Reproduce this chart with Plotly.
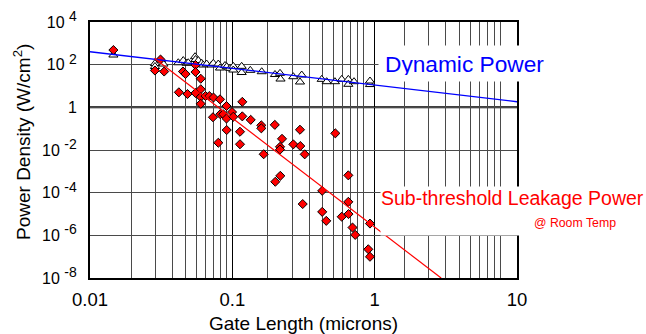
import plotly.graph_objects as go

# ---- data (gate length in microns, power density in W/cm^2) ----
dyn_len = [0.0146, 0.0286, 0.0286, 0.0315, 0.0328, 0.0417, 0.0452, 0.0478, 0.049,
           0.0547, 0.0551, 0.0577, 0.0609, 0.0625, 0.066, 0.0716, 0.0735, 0.0797,
           0.0819, 0.0888, 0.0913, 0.0963, 0.1016, 0.1016, 0.1163, 0.1163, 0.1337,
           0.1609, 0.1994, 0.2163, 0.218, 0.2682, 0.3072, 0.2988, 0.4246, 0.46,
           0.526, 0.587, 0.653, 0.653, 0.716, 0.927, 0.927]
dyn_pow = [283, 113, 81.8, 165, 107, 123, 156, 116, 123,
           236, 174, 156, 116, 96.2, 107, 96.2, 116, 107,
           69.6, 91.2, 80, 67.3, 83.6, 56.1, 83.6, 42.8, 54.3,
           46.7, 34.5, 39.3, 21.2, 27.2, 32.7, 15.4, 20.5, 15.9,
           15.9, 20.5, 20.5, 12.0, 15.9, 11.7, 17.1]

leak_len = [0.0146, 0.0313, 0.0286, 0.0332, 0.045, 0.0469, 0.0551, 0.0551, 0.060,
            0.0421, 0.0484, 0.0551, 0.060, 0.060, 0.0648, 0.0689, 0.0737, 0.0819,
            0.060, 0.1175, 0.091, 0.0995, 0.0731, 0.0823, 0.0864, 0.091, 0.1016,
            0.1175, 0.1346, 0.1598, 0.1598, 0.1988, 0.2988, 0.0913, 0.1132, 0.529,
            0.0797, 0.1132, 0.1661, 0.2234, 0.2163, 0.2163, 0.2682, 0.3003, 0.3225,
            0.2173, 0.2004, 0.653, 0.428, 0.3122, 0.653, 0.428, 0.457, 0.587,
            0.655, 0.699, 0.730, 0.927, 0.902, 0.927]
leak_pow = [485, 174, 53.1, 47.7, 47.7, 36.4, 96.2, 45.2, 21.9,
            5.05, 4.2, 4.68, 7.06, 3.04, 3.39, 3.39, 2.88, 2.37,
            1.46, 1.81, 1.15, 0.602, 0.343, 0.475, 0.475, 0.298, 0.362,
            0.378, 0.259, 0.143, 0.1036, 0.151, 0.0891, 0.0862, 0.0718, 0.0604,
            0.0219, 0.0186, 0.00633, 0.0334, 0.01407, 0.0105, 0.0184, 0.01534, 0.00626,
            6.15e-4, 3.25e-4, 6.49e-4, 1.22e-4, 2.93e-5, 3.71e-5, 1.26e-5, 4.77e-6, 7.43e-6,
            9.95e-6, 2.32e-6, 1.05e-6, 3.56e-6, 2.22e-7, 9.9e-8]

dyn_fit_len = [0.01, 10]
dyn_fit_pow = [404, 1.83]
leak_fit_len = [0.0283, 2.93]
leak_fit_pow = [198, 1e-8]

x_tickvals = [0.01, 0.1, 1, 10]
x_ticktext = ["0.01", "0.1", "1", "10"]
y_tickvals = [1e4, 1e2, 1, 1e-2, 1e-4, 1e-6, 1e-8]
y_exps = ["4", "2", None, "-2", "-4", "-6", "-8"]
y_ticktext = ["1" if e is None else
              "10 <sup><span style='font-size:14px'>%s</span></sup>" % e for e in y_exps]

FONT = "Arial, 'Liberation Sans', sans-serif"

# plot-area geometry (pixels) used to place the free text labels
L, R, T, B = 90, 517, 22, 278
W, H = R - L, B - T


def px_x(p):
    return (p - L) / W


def px_y(p):
    return (B - p) / H


fig = go.Figure()
# hidden overlay axis carrying the background minor grid
fig.add_trace(go.Scatter(x=[], y=[], xaxis="x2", yaxis="y", showlegend=False,
                         hoverinfo="skip"))
fig.add_trace(go.Scatter(x=dyn_len, y=dyn_pow, mode="markers", showlegend=False,
                         marker=dict(symbol="triangle-up", size=8, color="white",
                                     line=dict(color="black", width=1))))
fig.add_trace(go.Scatter(x=leak_len, y=leak_pow, mode="markers", showlegend=False,
                         marker=dict(symbol="diamond", size=7, color="#ff0000",
                                     line=dict(color="black", width=1))))
fig.add_trace(go.Scatter(x=dyn_fit_len, y=dyn_fit_pow, mode="lines", showlegend=False,
                         line=dict(color="#0000ff", width=1.3)))
fig.add_trace(go.Scatter(x=leak_fit_len, y=leak_fit_pow, mode="lines", showlegend=False,
                         line=dict(color="#ff0000", width=1.2)))

fig.update_layout(
    width=646, height=334,
    margin=dict(l=L, r=646 - R, t=T, b=334 - B, autoexpand=False),
    paper_bgcolor="white", plot_bgcolor="white",
    font=dict(family=FONT, color="black"),
    xaxis=dict(type="log", range=[-2, 1], tickvals=x_tickvals, ticktext=x_ticktext,
               showgrid=True, gridcolor="black", gridwidth=1, automargin=False,
               showline=True, linecolor="black", linewidth=2, mirror=True,
               ticks="outside", ticklen=4, tickcolor="rgba(0,0,0,0)",
               tickfont=dict(size=18.5, family=FONT), zeroline=False),
    xaxis2=dict(type="log", range=[-2, 1.1213], overlaying="x", side="bottom",
                showgrid=True, gridcolor="#4a4a4a", gridwidth=1, dtick="D1",
                automargin=False,
                showticklabels=False, ticks="", showline=False, zeroline=False),
    yaxis=dict(type="log", range=[-8, 4], tickvals=y_tickvals, ticktext=y_ticktext,
               showgrid=True, gridcolor="#4a4a4a", gridwidth=1, automargin=False,
               showline=True, linecolor="black", linewidth=2, mirror=True,
               ticks="outside", ticklen=8, tickcolor="rgba(0,0,0,0)",
               tickfont=dict(size=16, family=FONT), zeroline=False),
    shapes=[dict(type="line", xref="paper", x0=0, x1=1, yref="y", y0=1, y1=1,
                 line=dict(color="black", width=2), layer="between")],
    annotations=[
        dict(text="Gate Length (microns)", xref="paper", yref="paper",
             x=0.5, xanchor="center", y=px_y(323.5), yanchor="middle",
             showarrow=False, font=dict(size=19, family=FONT)),
        dict(text="Power Density (W/cm<sup>2</sup>)", xref="paper", yref="paper",
             x=px_x(22), xanchor="center", y=px_y(142), yanchor="middle",
             textangle=-90, showarrow=False, font=dict(size=19, family=FONT)),
        dict(text="Dynamic Power", xref="paper", yref="paper",
             x=px_x(378), xanchor="left", y=px_y(63.5), yanchor="middle",
             showarrow=False, bgcolor="white", width=190, height=23, align="left",
             borderpad=6, font=dict(size=22.7, color="#0000ff", family=FONT)),
        dict(text="Sub-threshold Leakage Power", xref="paper", yref="paper",
             x=px_x(380), xanchor="left", y=px_y(186), yanchor="top",
             showarrow=False, bgcolor="white", width=300, height=48, align="left",
             valign="top", borderpad=0, font=dict(size=19.5, color="#ff0000", family=FONT)),
        dict(text="@ Room Temp", xref="paper", yref="paper",
             x=px_x(618), xanchor="right", y=px_y(223), yanchor="middle",
             showarrow=False, font=dict(size=12.3, color="#ff0000", family=FONT)),
    ],
)

fig.write_html("out.html", config={"displayModeBar": False},
               post_script="document.body.style.margin='0';"
                           "document.body.style.padding='0';")
